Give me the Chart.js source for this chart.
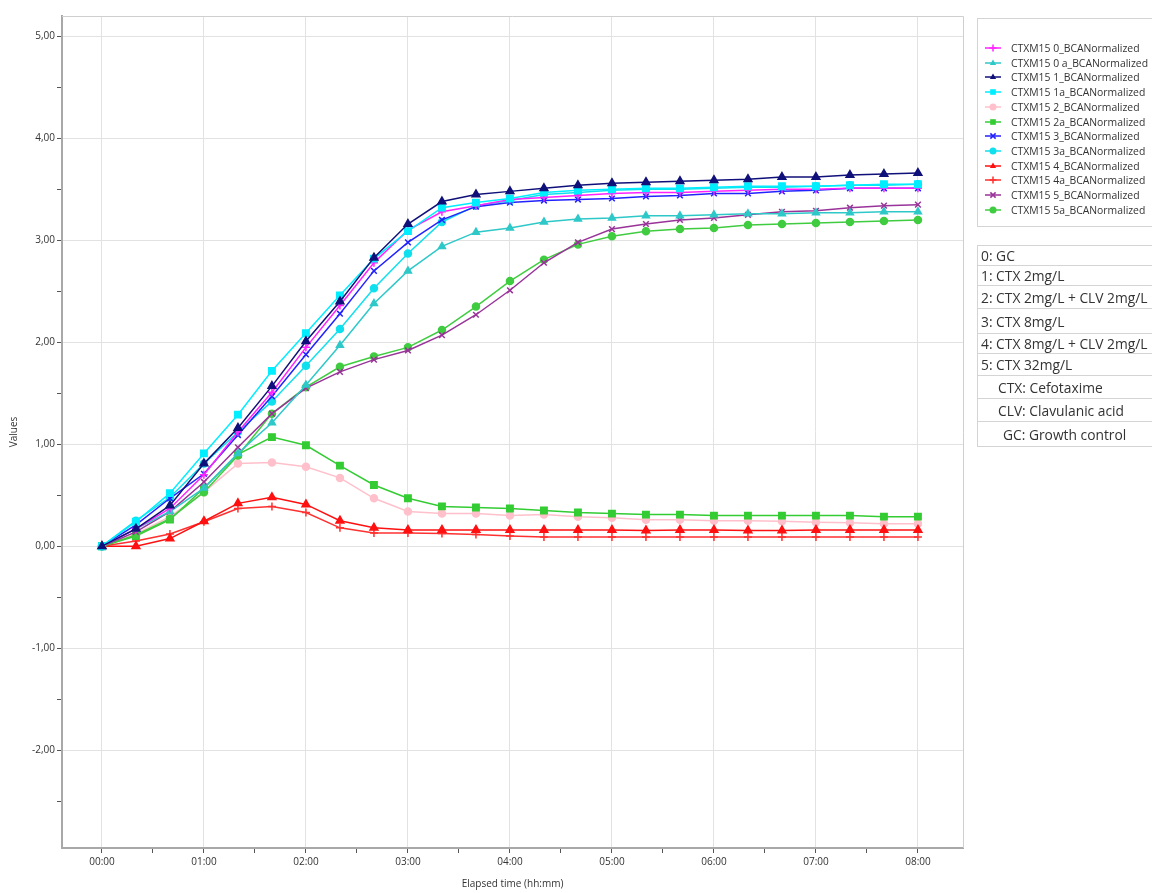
<!DOCTYPE html>
<html><head><meta charset="utf-8">
<script src="https://cdn.jsdelivr.net/npm/chart.js@4.4.1/dist/chart.umd.min.js"></script>
<style>
html,body{margin:0;padding:0;background:#fff;overflow:hidden;}
#wrap{position:relative;width:1152px;height:893px;}
#chartBox{position:absolute;left:0;top:0;width:1152px;height:893px;}
#legend{position:absolute;left:977px;top:18px;width:200px;height:209px;border:1px solid #d4d4d4;box-sizing:border-box;font:10.4px 'Open Sans',sans-serif;color:#333;background:#fff;}
.li{position:absolute;left:6px;height:14px;display:flex;align-items:center;white-space:nowrap;}
.li canvas{margin-right:9px;}
#notes{position:absolute;left:977px;top:245px;width:200px;font:13.8px 'Open Sans',sans-serif;color:#333;}
.row{box-sizing:border-box;border:1px solid #d4d4d4;border-top:none;display:flex;align-items:center;white-space:nowrap;padding-left:3px;}
.row.first{border-top:1px solid #d4d4d4;}
</style>
</head><body>
<div id="wrap">
  <div id="chartBox"><canvas id="c"></canvas></div>
  <div id="legend"></div>
  <div id="notes"></div>
</div>
<script>
// ---- data ----
const timeMinutes = [0,20,40,60,80,100,120,140,160,180,200,220,240,260,280,300,320,340,360,380,400,420,440,460,480];
const xTickLabels = ['00:00','01:00','02:00','03:00','04:00','05:00','06:00','07:00','08:00'];
const yTickValues = [-2,-1,0,1,2,3,4,5];
const yTickLabels = ['-2,00','-1,00','0,00','1,00','2,00','3,00','4,00','5,00'];
const seriesNames = ['CTXM15 0_BCANormalized','CTXM15 0 a_BCANormalized','CTXM15 1_BCANormalized','CTXM15 1a_BCANormalized','CTXM15 2_BCANormalized','CTXM15 2a_BCANormalized','CTXM15 3_BCANormalized','CTXM15 3a_BCANormalized','CTXM15 4_BCANormalized','CTXM15 4a_BCANormalized','CTXM15 5_BCANormalized','CTXM15 5a_BCANormalized'];
const s0  = [0,0.17,0.37,0.70,1.12,1.51,1.95,2.36,2.78,3.10,3.28,3.34,3.40,3.42,3.44,3.46,3.47,3.47,3.48,3.49,3.50,3.50,3.51,3.51,3.51];
const s0a = [0,0.17,0.34,0.57,0.91,1.21,1.58,1.97,2.38,2.70,2.94,3.08,3.12,3.18,3.21,3.22,3.24,3.24,3.25,3.26,3.26,3.27,3.27,3.28,3.28];
const s1  = [0,0.17,0.40,0.81,1.16,1.57,2.01,2.40,2.83,3.16,3.38,3.45,3.48,3.51,3.54,3.56,3.57,3.58,3.59,3.60,3.62,3.62,3.64,3.65,3.66];
const s1a = [0,0.24,0.52,0.91,1.29,1.72,2.09,2.46,2.82,3.09,3.32,3.37,3.41,3.47,3.49,3.50,3.51,3.51,3.52,3.53,3.53,3.53,3.54,3.55,3.55];
const s2  = [0,0.12,0.29,0.53,0.81,0.82,0.78,0.67,0.47,0.34,0.32,0.32,0.30,0.31,0.29,0.28,0.26,0.26,0.25,0.25,0.245,0.235,0.23,0.22,0.22];
const s2a = [0,0.10,0.26,0.57,0.90,1.07,0.99,0.79,0.60,0.47,0.39,0.38,0.37,0.35,0.33,0.32,0.31,0.31,0.30,0.30,0.30,0.30,0.30,0.29,0.29];
const s3  = [0,0.21,0.47,0.71,1.09,1.47,1.88,2.28,2.70,2.98,3.20,3.33,3.37,3.39,3.40,3.41,3.43,3.44,3.46,3.46,3.48,3.49,3.51,3.51,3.51];
const s3a = [0,0.25,0.48,0.81,1.12,1.42,1.77,2.13,2.53,2.87,3.18,3.34,3.39,3.45,3.47,3.49,3.50,3.50,3.51,3.52,3.52,3.53,3.54,3.54,3.55];
const s4  = [0,0.00,0.075,0.245,0.42,0.48,0.41,0.25,0.18,0.16,0.16,0.16,0.16,0.16,0.16,0.16,0.155,0.16,0.16,0.155,0.155,0.16,0.16,0.16,0.16];
const s4a = [0,0.05,0.12,0.24,0.37,0.39,0.33,0.18,0.13,0.13,0.125,0.115,0.10,0.09,0.09,0.09,0.09,0.09,0.09,0.09,0.09,0.09,0.09,0.09,0.09];
const s5  = [0,0.14,0.34,0.63,0.97,1.30,1.55,1.71,1.83,1.92,2.07,2.27,2.51,2.78,2.98,3.11,3.16,3.20,3.22,3.25,3.28,3.29,3.32,3.34,3.35];
const s5a = [0,0.11,0.27,0.53,0.89,1.30,1.56,1.76,1.86,1.95,2.12,2.35,2.60,2.81,2.96,3.04,3.09,3.11,3.12,3.15,3.16,3.17,3.18,3.19,3.20];
const notes = ['0: GC','1: CTX 2mg/L','2: CTX 2mg/L + CLV 2mg/L','3: CTX 8mg/L','4: CTX 8mg/L + CLV 2mg/L','5: CTX 32mg/L','CTX: Cefotaxime','CLV: Clavulanic acid','GC: Growth control'];

// ---- styles ----
const seriesValues = [s0,s0a,s1,s1a,s2,s2a,s3,s3a,s4,s4a,s5,s5a];
const colors = ['#ff22ff','#2ec8c8','#10107a','#00eeff','#ffc0cb','#33cc33','#2222ff','#10e0ee','#ff1010','#ff3030','#993399','#40cc40'];
const pStyles = ['cross','triangle','triangle','rect','circle','rect','crossRot','circle','triangle','cross','crossRot','circle'];
const pRadius = [4,4,4.5,4.5,3.5,4.5,4,3.5,4.5,4,4,3.5];
const drawOrder = [4,9,8,5,11,10,1,7,6,0,3,2];

const datasets = seriesValues.map((vals,k)=>({
  label: seriesNames[k],
  data: vals.map((v,i)=>({x: timeMinutes[i], y: v})),
  borderColor: colors[k],
  backgroundColor: colors[k],
  pointBackgroundColor: colors[k],
  pointBorderColor: colors[k],
  pointStyle: pStyles[k],
  pointRadius: pRadius[k],
  pointBorderWidth: 1.5,
  borderWidth: 1.5,
  tension: 0,
  order: drawOrder.indexOf(k) * -1 + 20
}));

const framePlugin = {
  id: 'frame',
  beforeDatasetsDraw(chart){
    const a = chart.chartArea, ctx = chart.ctx;
    ctx.save();
    ctx.strokeStyle = '#cfcfcf';
    ctx.lineWidth = 1;
    ctx.beginPath();
    ctx.moveTo(a.left, a.top + 0.5); ctx.lineTo(a.right + 0.5, a.top + 0.5); ctx.lineTo(a.right + 0.5, a.bottom);
    ctx.stroke();
    ctx.restore();
  }
};

Chart.defaults.font.family = "'Open Sans', sans-serif";
Chart.defaults.color = '#333';

new Chart(document.getElementById('c'), {
  type: 'line',
  data: { datasets },
  options: {
    responsive: true,
    maintainAspectRatio: false,
    animation: false,
    layout: { padding: { top: 16, right: 189, left: 0, bottom: 0 } },
    plugins: { legend: { display: false }, tooltip: { enabled: false } },
    scales: {
      x: {
        type: 'linear',
        min: -23.5, max: 506.5,
        afterFit(s){ s.height = 45; },
        border: { display: true, color: '#a8a8a8', width: 2 },
        grid: {
          color: (c)=> (c.tick && c.tick.value % 60 === 0) ? '#e2e2e2' : 'rgba(0,0,0,0)',
          tickColor: '#555', tickLength: 5, lineWidth: 1
        },
        ticks: {
          stepSize: 30, includeBounds: false, autoSkip: false, maxRotation: 0,
          font: { size: 10 }, color: '#333', padding: 3,
          callback: (v)=> (v % 60 === 0) ? xTickLabels[v/60] : ''
        },
        title: { display: true, text: 'Elapsed time (hh:mm)', font: { size: 10 }, color: '#333', padding: { top: 2, bottom: 3 } }
      },
      y: {
        min: -2.96, max: 5.2,
        afterFit(s){ s.width = 62; },
        border: { display: true, color: '#a8a8a8', width: 2 },
        grid: {
          color: (c)=> (c.tick && Number.isInteger(c.tick.value)) ? '#e2e2e2' : 'rgba(0,0,0,0)',
          tickColor: '#555', tickLength: 5, lineWidth: 1
        },
        ticks: {
          stepSize: 0.5, includeBounds: false, autoSkip: false,
          font: { size: 10 }, color: '#333', padding: 2,
          callback: (v)=> { const i = yTickValues.indexOf(v); return i >= 0 ? yTickLabels[i] : ''; }
        },
        title: { display: true, text: 'Values', font: { size: 10 }, color: '#333', padding: { top: 8, bottom: 0 } }
      }
    }
  },
  plugins: [framePlugin]
});

// ---- HTML legend ----
function drawMarker(ctx, style, x, y, r, color){
  ctx.fillStyle = color; ctx.strokeStyle = color; ctx.lineWidth = 1.5;
  ctx.beginPath();
  if (style === 'circle'){ ctx.arc(x,y,r,0,Math.PI*2); ctx.fill(); }
  else if (style === 'rect'){ ctx.fillRect(x-r*0.8,y-r*0.8,r*1.6,r*1.6); }
  else if (style === 'triangle'){ ctx.moveTo(x,y-r); ctx.lineTo(x+r*0.9,y+r*0.6); ctx.lineTo(x-r*0.9,y+r*0.6); ctx.closePath(); ctx.fill(); }
  else if (style === 'cross'){ ctx.moveTo(x-r,y); ctx.lineTo(x+r,y); ctx.moveTo(x,y-r); ctx.lineTo(x,y+r); ctx.stroke(); }
  else if (style === 'crossRot'){ const d=r*0.75; ctx.moveTo(x-d,y-d); ctx.lineTo(x+d,y+d); ctx.moveTo(x+d,y-d); ctx.lineTo(x-d,y+d); ctx.stroke(); }
}
const legend = document.getElementById('legend');
seriesNames.forEach((name,k)=>{
  const item = document.createElement('div');
  item.className = 'li';
  item.style.top = (22 + 14.7*k) + 'px';
  const cv = document.createElement('canvas');
  cv.width = 18; cv.height = 12;
  const cx = cv.getContext('2d');
  cx.strokeStyle = colors[k]; cx.lineWidth = 1.5;
  cx.beginPath(); cx.moveTo(1,6); cx.lineTo(17,6); cx.stroke();
  drawMarker(cx, pStyles[k], 9, 6, 3.5, colors[k]);
  item.appendChild(cv);
  const sp = document.createElement('span'); sp.textContent = name;
  item.appendChild(sp);
  legend.appendChild(item);
});

// ---- notes table ----
const rowHeights = [21,20,23,25,20,22,23,23,25];
const rowIndent = [3,3,3,3,3,3,20,20,25];
const nt = document.getElementById('notes');
notes.forEach((t,i)=>{
  const r = document.createElement('div');
  r.className = 'row' + (i===0 ? ' first' : '');
  r.style.height = rowHeights[i] + 'px';
  r.style.paddingLeft = rowIndent[i] + 'px';
  r.textContent = t;
  nt.appendChild(r);
});
</script>
</body></html>
